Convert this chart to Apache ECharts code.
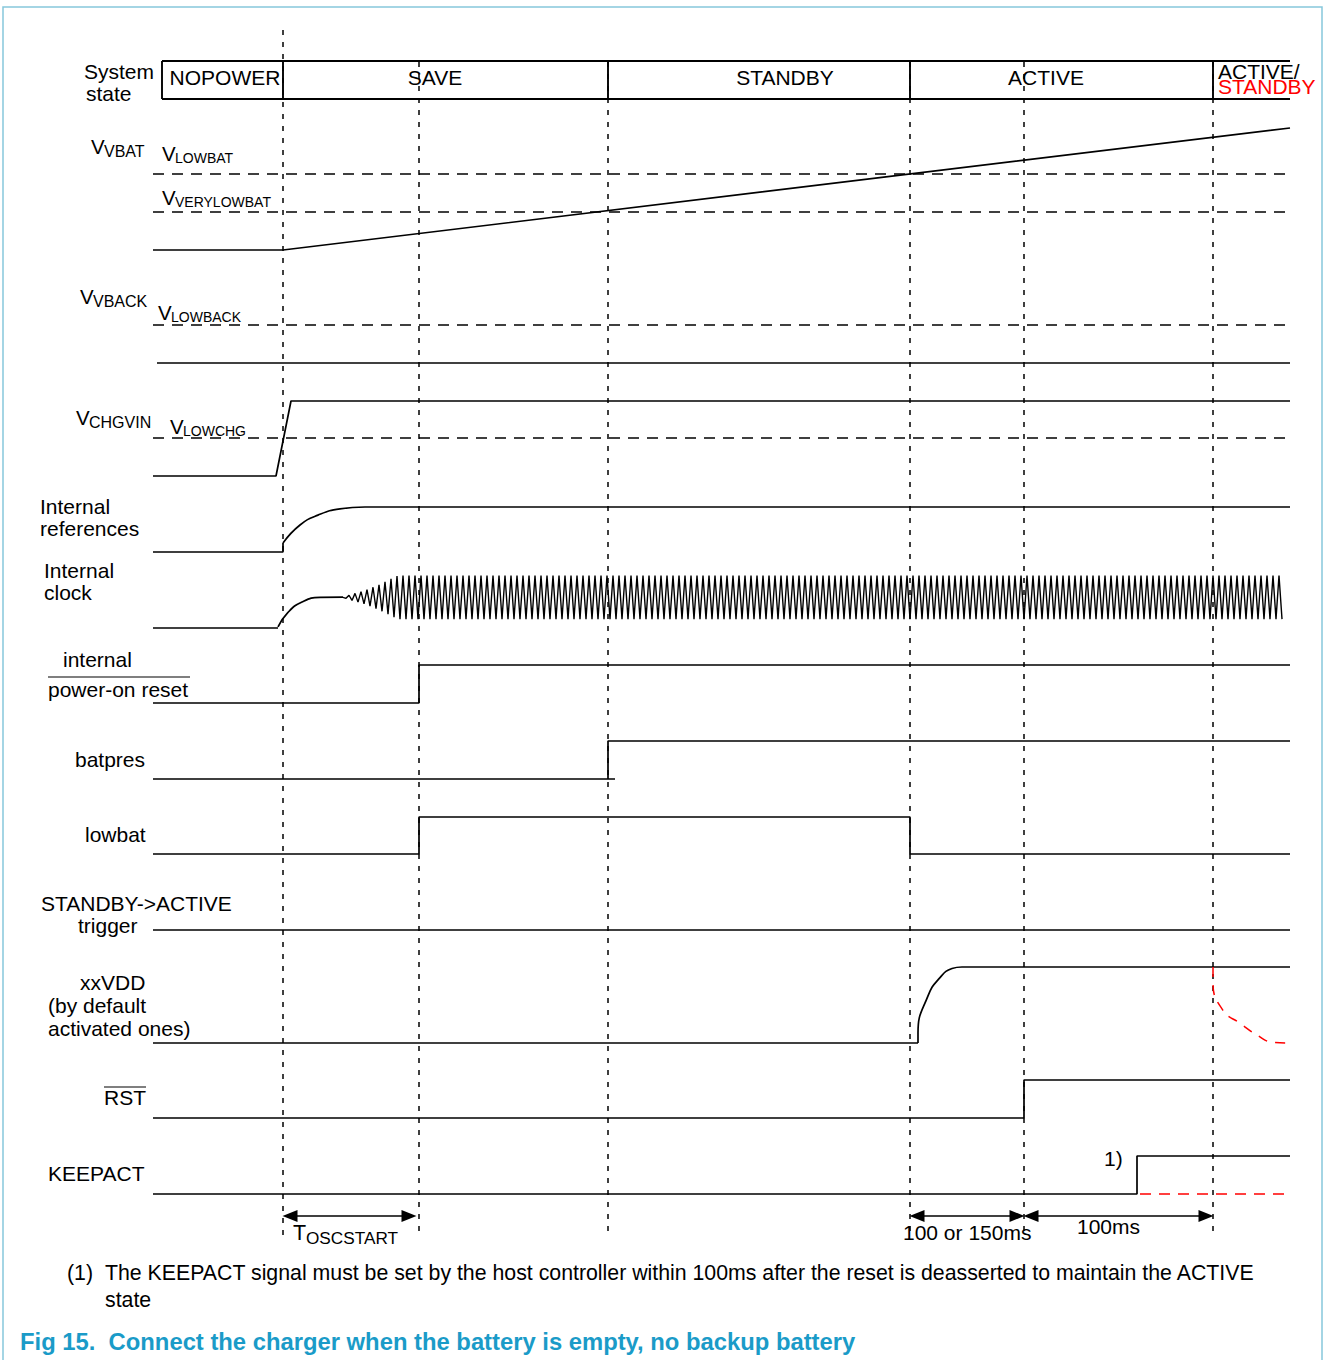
<!DOCTYPE html>
<html><head><meta charset="utf-8">
<script src="https://cdn.jsdelivr.net/npm/echarts@6/dist/echarts.min.js"></script>
<style>html,body{margin:0;padding:0;background:#fff}#c{width:1324px;height:1360px}</style>
</head><body><div id="c"></div>
<script>
// ---------- DATA (time axis in arbitrary diagram units, levels 0..1) ----------
const stateNames = ['NOPOWER', 'SAVE', 'STANDBY', 'ACTIVE'];
const stateBounds = [162, 283, 608, 910, 1213, 1290];
const eventTimes = [283, 419, 608, 910, 1024, 1213];
const tStart = 153, tEnd = 1290;

const vbatSignal = [[153, 0], [283, 0], [1290, 1]];
const vbatThresholds = [0.623, 0.311];          // VLOWBAT, VVERYLOWBAT
const vbackSignal = [[157, 0], [1290, 0]];
const vbackThreshold = 1;                         // VLOWBACK
const vchgSignal = [[153, 0], [276, 0], [291, 1], [1290, 1]];
const vchgThreshold = 0.507;                      // VLOWCHG
const intRefFlat = [[153, 0], [283, 0], [283, 0.2]];
const intRefCurve = [[283, 0.2], [300, 0.6], [318, 0.82], [340, 0.96], [365, 1]];
const intRefHigh = [[365, 1], [1290, 1]];
const clockFlat = [[153, 0], [278, 0]];
const clockCurve = [[278, 0.02], [288, 0.3], [302, 0.5], [320, 0.59], [343, 0.595]];
const clockEnvelope = [[343, 0.0], [352, 0.06], [365, 0.13], [380, 0.25], [398, 0.42], [1283, 0.42]];
const clockCenter = 0.59, clockPeriod = 6;
const porSignal = [[153, 0], [419, 0], [419, 1], [1290, 1]];
const batpresSignal = [[153, 0], [615, 0], [608, 0], [608, 1], [1290, 1]];
const lowbatSignal = [[153, 0], [419, 0], [419, 1], [910, 1], [910, 0], [1290, 0]];
const triggerSignal = [[153, 0], [1290, 0]];
const xxvddFlat = [[153, 0], [918, 0]];
const xxvddCurve = [[918, 0], [918, 0.13], [928, 0.62], [940, 0.86], [952, 0.98], [962, 1]];
const xxvddHigh = [[962, 1], [1290, 1]];
const xxvddOff = [[1213, 1], [1213, 0.8], [1223, 0.43], [1240, 0.26], [1257, 0.105], [1273, 0.01], [1290, 0]];
const rstSignal = [[153, 0], [1024, 0], [1024, 1], [1290, 1]];
const keepactSignal = [[153, 0], [1137, 0], [1137, 1], [1290, 1]];
const keepactOff = [[1140, 0], [1290, 0]];
const spans = [[283, 416], [910, 1024], [1024, 1213]];

// ---------- LAYOUT ----------
const rows = {
  state: {top: 61, bot: 99},
  vbat: {base: 250, h: 122}, vback: {base: 363, h: 38}, vchg: {base: 476, h: 75},
  intref: {base: 552, h: 45}, clock: {base: 628, h: 52}, por: {base: 703, h: 38},
  batpres: {base: 779, h: 38}, lowbat: {base: 854, h: 37}, trigger: {base: 930, h: 38},
  xxvdd: {base: 1043, h: 76}, rst: {base: 1118, h: 38}, keepact: {base: 1194, h: 38}
};
const FONT = '"Liberation Sans", Arial, sans-serif';
const LW = 1.7;
const FS = 21;

function map(row, pts) { return pts.map(p => [p[0], row.base - p[1] * row.h]); }
function line(data, extra) {
  return Object.assign({type: 'line', data: data, symbol: 'none', showSymbol: false, silent: true,
    animation: false, lineStyle: {color: '#000', width: LW}, z: 3}, extra || {});
}
function dashed(data, color, w) {
  return line(data, {lineStyle: {color: color || '#000', width: w || 1.5, type: [11, 8]}});
}

// clock waveform drawn from the envelope
function envAt(t) {
  for (let i = 1; i < clockEnvelope.length; i++) {
    const a = clockEnvelope[i - 1], b = clockEnvelope[i];
    if (t <= b[0]) return a[1] + (b[1] - a[1]) * (t - a[0]) / (b[0] - a[0]);
  }
  return clockEnvelope[clockEnvelope.length - 1][1];
}
const clockWave = [];
{
  const t0 = clockEnvelope[0][0], t1 = clockEnvelope[clockEnvelope.length - 1][0];
  let k = 0;
  for (let t = t0; t <= t1; t += clockPeriod / 2, k++) {
    const s = (k % 2 === 0) ? 1 : -1;
    clockWave.push([t, clockCenter + s * envAt(t)]);
  }
}

const series = [];
// state box
const boxStyle = {lineStyle: {color: '#000', width: 1.9}};
series.push(line([[stateBounds[0], rows.state.top], [tEnd, rows.state.top]], boxStyle));
series.push(line([[stateBounds[0], rows.state.bot], [tEnd, rows.state.bot]], boxStyle));
stateBounds.slice(0, 5).forEach(x => series.push(line([[x, rows.state.top], [x, rows.state.bot]], boxStyle)));
// event markers
eventTimes.forEach((x, i) => series.push(line([[x, i === 0 ? 30 : 62], [x, 1238]], {lineStyle: {color: '#000', width: 1.5, type: [5, 7]}, z: 2})));
// VBAT
vbatThresholds.forEach(l => series.push(dashed(map(rows.vbat, [[tStart, l], [tEnd, l]]))));
series.push(line(map(rows.vbat, vbatSignal)));
// VBACK
series.push(dashed(map(rows.vback, [[tStart, vbackThreshold], [tEnd, vbackThreshold]])));
series.push(line(map(rows.vback, vbackSignal)));
// VCHGVIN
series.push(dashed(map(rows.vchg, [[tStart, vchgThreshold], [tEnd, vchgThreshold]])));
series.push(line(map(rows.vchg, vchgSignal)));
// internal references
series.push(line(map(rows.intref, intRefFlat)));
series.push(line(map(rows.intref, intRefCurve), {smooth: 0.5}));
series.push(line(map(rows.intref, intRefHigh)));
// clock
series.push(line(map(rows.clock, clockFlat)));
series.push(line(map(rows.clock, clockCurve), {smooth: 0.5}));
series.push(line(map(rows.clock, clockWave), {lineStyle: {color: '#000', width: 1.4}}));
// digital
series.push(line(map(rows.por, porSignal)));
series.push(line(map(rows.batpres, batpresSignal)));
series.push(line(map(rows.lowbat, lowbatSignal)));
series.push(line(map(rows.trigger, triggerSignal)));
series.push(line(map(rows.xxvdd, xxvddFlat)));
series.push(line(map(rows.xxvdd, xxvddCurve), {smooth: 0.5}));
series.push(line(map(rows.xxvdd, xxvddHigh)));
series.push(line(map(rows.xxvdd, xxvddOff), {smooth: 0.5, lineStyle: {color: '#ff0000', width: 1.5, type: [10, 8]}}));
series.push(line(map(rows.rst, rstSignal)));
series.push(line(map(rows.keepact, keepactSignal)));
series.push(dashed(map(rows.keepact, keepactOff), '#ff0000', 1.6));
// span arrows
series.push({type: 'line', data: [[0, 0]], symbol: 'none', lineStyle: {opacity: 0}, silent: true, animation: false,
  markLine: {silent: true, animation: false, symbol: ['triangle', 'triangle'], symbolSize: [12, 15],
    lineStyle: {color: '#000', type: 'solid', width: 1.6}, label: {show: false},
    data: spans.map(s => [{coord: [s[0] + 7, 1216]}, {coord: [s[1] - 7, 1216]}])}});

// ---------- TEXT ----------
const texts = [];
function T(x, y, text, size, opts) {
  texts.push(Object.assign({type: 'text', silent: true, z: 10,
    style: Object.assign({x: x, y: y, text: text, font: (size || FS) + 'px ' + FONT, fill: '#000',
      textAlign: 'left', textVerticalAlign: 'middle'}, opts || {})}));
}
function Vsub(x, y, sub, s1, s2) { T(x, y, 'V', s1 || FS); T(x + 13, y + 5, sub, s2 || 15); }
function HL(x1, x2, y, color, w) {
  texts.push({type: 'line', silent: true, z: 10, shape: {x1: x1, y1: y, x2: x2, y2: y}, style: {stroke: color || '#000', lineWidth: w || 1.2}});
}
T(84, 71, 'System', FS); T(86, 93, 'state', FS);
const stateCenters = [225, 435, 785, 1046];
stateNames.forEach((n, i) => T(stateCenters[i], 77, n, FS, {textAlign: 'center'}));
T(1218, 71, 'ACTIVE/', FS); T(1218, 86, 'STANDBY', FS, {fill: '#ff0000'});

Vsub(91, 146, 'VBAT', 20.5, 16);
Vsub(162, 153, 'LOWBAT', 20.5, 14);
Vsub(162, 197, 'VERYLOWBAT', 20.5, 14);
Vsub(80, 296, 'VBACK', 20.5, 16);
Vsub(158, 312, 'LOWBACK', 20.5, 14);
Vsub(76, 417, 'CHGVIN', 20.5, 16);
Vsub(170, 426, 'LOWCHG', 20.5, 14);
T(40, 506, 'Internal'); T(40, 528, 'references');
T(44, 570, 'Internal'); T(44, 592, 'clock');
T(63, 659, 'internal'); T(48, 689, 'power-on reset'); HL(48, 190, 677);
T(75, 759, 'batpres');
T(85, 834, 'lowbat');
T(41, 903, 'STANDBY->ACTIVE'); T(78, 925, 'trigger');
T(80, 982, 'xxVDD'); T(48, 1005, '(by default'); T(48, 1028, 'activated ones)');
T(104, 1097, 'RST'); HL(104, 146, 1087);
T(48, 1173, 'KEEPACT');
T(1104, 1158, '1)');
T(293, 1233, 'T', 21.5); T(306, 1238, 'OSCSTART', 17.2);
T(903, 1232, '100 or 150ms');
T(1077, 1226, '100ms');
T(67, 1273, '(1)', 21.3);
T(105, 1273, 'The KEEPACT signal must be set by the host controller within 100ms after the reset is deasserted to maintain the ACTIVE', 21.3);
T(105, 1300, 'state', 21.3);
T(20, 1341, 'Fig 15.  Connect the charger when the battery is empty, no backup battery', 24,
  {font: 'bold 23.8px "Liberation Sans Narrow", "Arial Narrow", "Liberation Sans", sans-serif', fill: '#1a9bc8'});
texts.push({type: 'rect', silent: true, z: 0, shape: {x: 3, y: 7, width: 1319, height: 1360}, style: {fill: 'none', stroke: '#86c8dc', lineWidth: 1.5}});

const chart = echarts.init(document.getElementById('c'), null, {renderer: 'svg', width: 1324, height: 1360});
chart.setOption({
  animation: false,
  grid: {left: 0, right: 0, top: 0, bottom: 0},
  xAxis: {type: 'value', min: 0, max: 1324, show: false},
  yAxis: {type: 'value', min: 0, max: 1360, inverse: true, show: false},
  series: series,
  graphic: texts
});
</script></body></html>
